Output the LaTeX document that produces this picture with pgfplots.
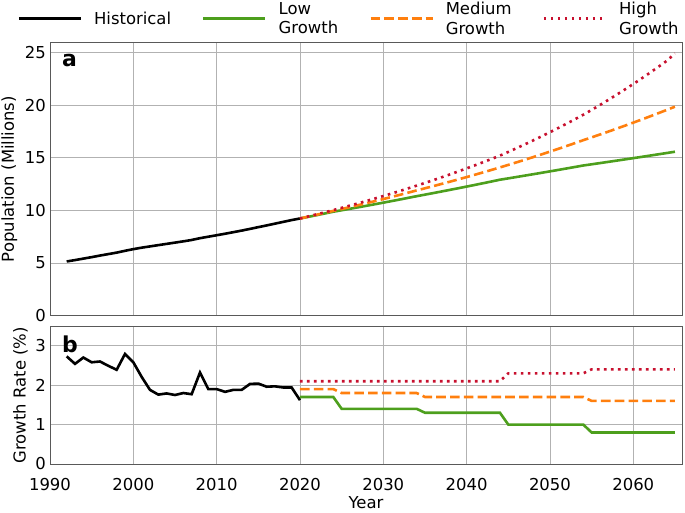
\documentclass[border=0pt]{standalone}
\usepackage{fontspec}
\setmainfont{DejaVu Sans}
\usepackage{pgfplots}
\pgfplotsset{compat=1.18}

\definecolor{lowc}{RGB}{77,159,29}
\definecolor{medc}{RGB}{255,127,14}
\definecolor{highc}{RGB}{200,16,46}
\definecolor{gridc}{RGB}{178,178,178}

\pgfplotsset{
  panel/.style={
    scale only axis, width=632bp,
    xmin=1990, xmax=2065.85,
    xtick={1990,2000,...,2060},
    xtick pos=bottom, ytick pos=left,
    grid=major,
    major grid style={gridc, line width=0.8bp},
    axis line style={black!65, line width=0.9bp},
    major tick length=0pt,
    /pgf/number format/assume math mode=true,
    /pgf/number format/1000 sep={},
    font=\fontsize{16.5}{19.8}\selectfont,
    yticklabel style={inner sep=4bp},
    xticklabel style={inner sep=4bp, yshift=-10bp},
  },
  hist/.style={black, line width=2.6bp},
  low/.style={lowc, line width=2.6bp},
  med/.style={medc, line width=2.6bp, dash pattern=on 9.6bp off 4.2bp},
  high/.style={highc, line width=2.6bp, dash pattern=on 2.6bp off 4.4bp},
}

\begin{document}
\begin{tikzpicture}
\begin{axis}[panel, name=a, at={(0,0)}, anchor=south west,
  height=273.3bp, ymin=0, ymax=25.95, ytick={0,5,...,25},
  xticklabels={},
  ylabel={Population (Millions)},
  legend columns=4, legend cell align=left,
  legend image code/.code={\draw[#1] (0bp,0bp) -- (62bp,0bp);},
  legend style={draw=none, fill=none, at={(-0.0514,1.0865)}, anchor=west,
    inner sep=0pt, outer sep=0pt, column sep=12bp,
    /tikz/every even column/.append style={column sep=31bp},
    cells={align=left}, nodes={inner sep=0pt}},
]
\addplot[hist] coordinates {
(1992,5.15)(1993,5.28)(1994,5.42)(1995,5.56)(1996,5.71)(1997,5.85)(1998,5.99)
(1999,6.16)(2000,6.32)(2001,6.46)(2002,6.58)(2003,6.70)(2004,6.82)(2005,6.94)
(2006,7.06)(2007,7.19)(2008,7.36)(2009,7.50)(2010,7.64)(2011,7.78)(2012,7.93)
(2013,8.08)(2014,8.24)(2015,8.41)(2016,8.57)(2017,8.74)(2018,8.91)(2019,9.08)
(2020,9.23)};
\addlegendentry{Historical}
\addplot[low] coordinates {
(2020,9.23)(2021,9.387)(2022,9.546)(2023,9.709)(2024,9.874)(2025,10.012)
(2026,10.152)(2027,10.294)(2028,10.438)(2029,10.584)(2030,10.733)(2031,10.883)
(2032,11.035)(2033,11.190)(2034,11.346)(2035,11.494)(2036,11.643)(2037,11.795)
(2038,11.948)(2039,12.103)(2040,12.261)(2041,12.420)(2042,12.581)(2043,12.745)
(2044,12.911)(2045,13.040)(2046,13.170)(2047,13.302)(2048,13.435)(2049,13.569)
(2050,13.705)(2051,13.842)(2052,13.980)(2053,14.120)(2054,14.261)(2055,14.375)
(2056,14.490)(2057,14.606)(2058,14.723)(2059,14.841)(2060,14.960)(2061,15.079)
(2062,15.200)(2063,15.322)(2064,15.444)(2065,15.568)};
\addlegendentry{Low\\Growth}
\addplot[med] coordinates {
(2020,9.23)(2021,9.405)(2022,9.584)(2023,9.766)(2024,9.952)(2025,10.131)
(2026,10.313)(2027,10.499)(2028,10.688)(2029,10.880)(2030,11.076)(2031,11.275)
(2032,11.478)(2033,11.685)(2034,11.895)(2035,12.097)(2036,12.303)(2037,12.512)
(2038,12.725)(2039,12.941)(2040,13.161)(2041,13.385)(2042,13.613)(2043,13.844)
(2044,14.079)(2045,14.319)(2046,14.562)(2047,14.810)(2048,15.062)(2049,15.318)
(2050,15.578)(2051,15.843)(2052,16.112)(2053,16.386)(2054,16.665)(2055,16.932)
(2056,17.203)(2057,17.478)(2058,17.758)(2059,18.042)(2060,18.331)(2061,18.624)
(2062,18.922)(2063,19.225)(2064,19.532)(2065,19.845)};
\addlegendentry{Medium\\Growth}
\addplot[high] coordinates {
(2020,9.23)(2021,9.424)(2022,9.622)(2023,9.824)(2024,10.030)(2025,10.241)
(2026,10.456)(2027,10.676)(2028,10.900)(2029,11.129)(2030,11.362)(2031,11.601)
(2032,11.845)(2033,12.093)(2034,12.347)(2035,12.607)(2036,12.871)(2037,13.142)
(2038,13.418)(2039,13.699)(2040,13.987)(2041,14.281)(2042,14.581)(2043,14.887)
(2044,15.200)(2045,15.549)(2046,15.907)(2047,16.273)(2048,16.647)(2049,17.030)
(2050,17.421)(2051,17.822)(2052,18.232)(2053,18.651)(2054,19.080)(2055,19.538)
(2056,20.007)(2057,20.487)(2058,20.979)(2059,21.482)(2060,21.998)(2061,22.526)
(2062,23.066)(2063,23.620)(2064,24.187)(2065,24.900)};
\addlegendentry{High\\Growth}
\node[anchor=base west, inner sep=0pt, font=\fontsize{22}{26}\selectfont\bfseries]
  at (rel axis cs:0.019,0.911) {a};
\end{axis}

\begin{axis}[panel, name=b, at={(0,-10.7bp)}, anchor=north west,
  height=137.6bp, ymin=0, ymax=3.49, ytick={0,1,2,3},
  xlabel={Year}, ylabel={Growth Rate (\%)},
  xlabel style={yshift=-2bp, inner sep=0pt},
]
\addplot[hist] coordinates {
(1992,2.73)(1993,2.54)(1994,2.70)(1995,2.58)(1996,2.60)(1997,2.49)(1998,2.39)
(1999,2.79)(2000,2.58)(2001,2.21)(2002,1.88)(2003,1.76)(2004,1.79)(2005,1.75)
(2006,1.80)(2007,1.77)(2008,2.32)(2009,1.90)(2010,1.90)(2011,1.83)(2012,1.88)
(2013,1.88)(2014,2.03)(2015,2.04)(2016,1.96)(2017,1.97)(2018,1.94)(2019,1.94)
(2020,1.62)};
\addplot[low] coordinates {
(2020,1.7)(2024,1.7)(2025,1.4)(2034,1.4)(2035,1.3)(2044,1.3)(2045,1.0)
(2054,1.0)(2055,0.8)(2065,0.8)};
\addplot[med] coordinates {
(2020,1.9)(2024,1.9)(2025,1.8)(2034,1.8)(2035,1.7)(2054,1.7)(2055,1.6)(2065,1.6)};
\addplot[high] coordinates {
(2020,2.1)(2044,2.1)(2045,2.3)(2054,2.3)(2055,2.4)(2065,2.4)};
\node[anchor=base west, inner sep=0pt, font=\fontsize{22}{26}\selectfont\bfseries]
  at (rel axis cs:0.019,0.809) {b};
\end{axis}
\pgfresetboundingbox
\path[use as bounding box] (-50bp,-196.7bp) rectangle (635bp,315.7bp);
\end{tikzpicture}
\end{document}
